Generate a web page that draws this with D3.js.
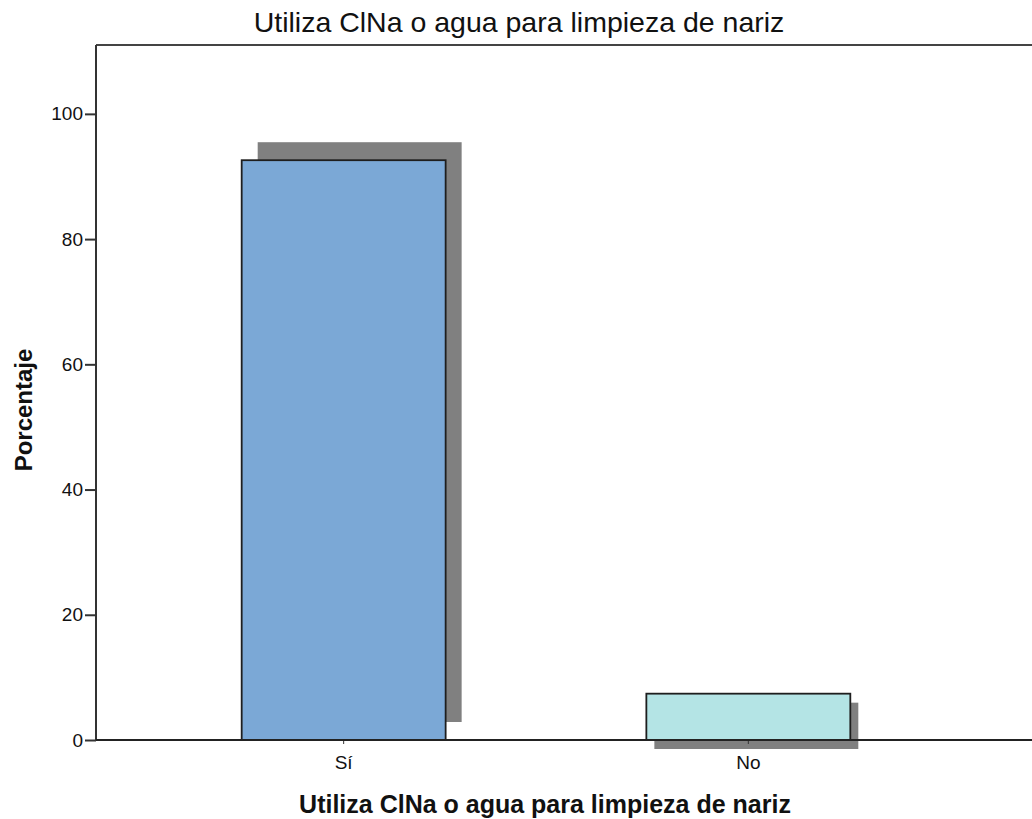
<!DOCTYPE html>
<html>
<head>
<meta charset="utf-8">
<script src="https://cdn.jsdelivr.net/npm/d3@7"></script>
<style>
  html, body { margin: 0; padding: 0; background: #fff; }
  svg { display: block; }
  text { font-family: "Liberation Sans", Arial, sans-serif; fill: #111; }
</style>
</head>
<body>
<svg id="chart" width="1032" height="819"></svg>
<script>
// Data
const categories = ["Sí", "No"];
const percentages = [92.6, 7.4];
const yTicks = [0, 20, 40, 60, 80, 100];
const titleText = "Utiliza ClNa o agua para limpieza de nariz";
const xAxisTitle = "Utiliza ClNa o agua para limpieza de nariz";
const yAxisTitle = "Porcentaje";

const barFills = ["#7ba8d6", "#b4e4e5"];
// drop shadow offset for each bar (dx, dy)
const shadowOffsets = [[16, -18], [8, 9]];

const svg = d3.select("#chart");
const plotLeft = 96, plotRight = 1032, plotTop = 45, plotBottom = 740;

const x = d3.scaleBand()
  .domain(categories)
  .range([plotLeft, 996])
  .paddingInner(0.496)
  .paddingOuter(0.36);

const y = d3.scaleLinear()
  .domain([0, 111])
  .range([plotBottom, plotTop]);

// frame top line
svg.append("line")
  .attr("x1", plotLeft).attr("x2", plotRight)
  .attr("y1", plotTop).attr("y2", plotTop)
  .attr("stroke", "#444").attr("stroke-width", 2);

// shadows
svg.append("g").selectAll("rect")
  .data(categories)
  .join("rect")
  .attr("x", (d, i) => x(d) + shadowOffsets[i][0])
  .attr("y", (d, i) => y(percentages[i]) + shadowOffsets[i][1])
  .attr("width", x.bandwidth())
  .attr("height", (d, i) => y(0) - y(percentages[i]))
  .attr("fill", "#808080");

// bars
svg.append("g").selectAll("rect")
  .data(categories)
  .join("rect")
  .attr("x", d => x(d))
  .attr("y", (d, i) => y(percentages[i]))
  .attr("width", x.bandwidth())
  .attr("height", (d, i) => y(0) - y(percentages[i]))
  .attr("fill", (d, i) => barFills[i])
  .attr("stroke", "#1e1e1e")
  .attr("stroke-width", 1.8);

// y axis
const yAxis = svg.append("g")
  .attr("transform", `translate(${plotLeft},0)`)
  .call(d3.axisLeft(y).tickValues(yTicks).tickSize(11).tickPadding(2).tickFormat(d3.format("d")));
yAxis.select(".domain").remove();
yAxis.selectAll(".tick line").attr("stroke", "#333").attr("stroke-width", 2);
yAxis.selectAll(".tick text")
  .style("font-family", '"Liberation Sans", Arial, sans-serif')
  .style("font-size", "19px").attr("fill", "#222");
svg.append("line")
  .attr("x1", plotLeft).attr("x2", plotLeft)
  .attr("y1", plotTop).attr("y2", plotBottom + 1)
  .attr("stroke", "#333").attr("stroke-width", 2);

// x axis
const xAxis = svg.append("g")
  .attr("transform", `translate(0,${plotBottom})`)
  .call(d3.axisBottom(x).tickSize(4).tickPadding(12));
xAxis.select(".domain").remove();
xAxis.selectAll(".tick line").attr("stroke", "#333").attr("stroke-width", 1);
xAxis.selectAll(".tick text")
  .style("font-family", '"Liberation Sans", Arial, sans-serif')
  .style("font-size", "19px").attr("fill", "#222");
svg.append("line")
  .attr("x1", plotLeft).attr("x2", plotRight)
  .attr("y1", plotBottom).attr("y2", plotBottom)
  .attr("stroke", "#222").attr("stroke-width", 2);

// titles
svg.append("text")
  .attr("x", 519).attr("y", 32)
  .attr("text-anchor", "middle")
  .style("font-size", "28.5px")
  .text(titleText);

svg.append("text")
  .attr("x", 545).attr("y", 813)
  .attr("text-anchor", "middle")
  .style("font-size", "25px").style("font-weight", "bold")
  .text(xAxisTitle);

svg.append("text")
  .attr("transform", "translate(32,410) rotate(-90)")
  .attr("text-anchor", "middle")
  .style("font-size", "24px").style("font-weight", "bold")
  .text(yAxisTitle);
</script>
</body>
</html>
